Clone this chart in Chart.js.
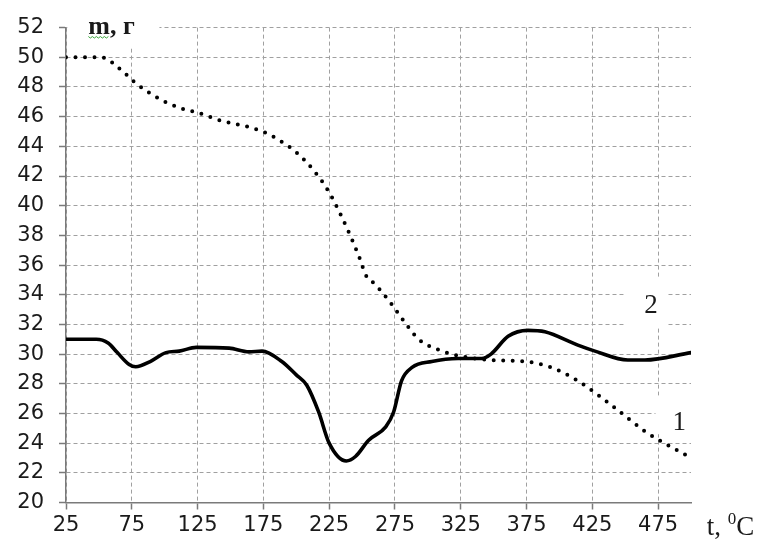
<!DOCTYPE html>
<html>
<head>
<meta charset="utf-8">
<script src="https://cdn.jsdelivr.net/npm/chart.js@4.4.0/dist/chart.umd.min.js"></script>
<style>
  html, body { margin: 0; padding: 0; background: #fff; }
  #wrap { width: 763px; height: 539px; }
</style>
</head>
<body>
<div id="wrap"><canvas id="chart" width="763" height="539"></canvas></div>
<script>
// curve "1" (dotted) - t, degC / m, g
const temp1 = [25, 49, 56, 62, 70, 76, 92, 111, 124, 144, 164, 177, 189, 200, 213, 225, 239, 248, 253, 260, 273, 282, 293, 308, 323, 348, 374, 394, 414, 439, 465, 500];
const mass1 = [50.0, 50.0, 49.9, 49.5, 48.9, 48.4, 47.4, 46.6, 46.3, 45.7, 45.3, 44.9, 44.3, 43.6, 42.4, 40.9, 38.4, 36.5, 35.3, 34.7, 33.3, 32.2, 31.0, 30.3, 29.9, 29.6, 29.5, 29.1, 28.2, 26.6, 24.8, 23.0];

// curve "2" (solid)
const temp2 = [25, 48, 57, 64, 73, 78, 89, 101, 111, 124, 149, 164, 174, 189, 200, 208, 217, 225, 238, 245, 255, 268, 274, 280, 288, 303, 323, 341, 348, 361, 376, 389, 414, 427, 452, 465, 500];
const mass2 = [31.0, 31.0, 30.75, 30.1, 29.3, 29.15, 29.5, 30.1, 30.2, 30.45, 30.4, 30.15, 30.2, 29.5, 28.6, 27.9, 26.1, 24.0, 22.8, 23.1, 24.2, 25.1, 26.1, 28.2, 29.1, 29.5, 29.7, 29.7, 30.0, 31.2, 31.6, 31.5, 30.6, 30.2, 29.6, 29.6, 30.1];

const xTicks = [25, 75, 125, 175, 225, 275, 325, 375, 425, 475];
const xMin = 25, xMax = 500;
const yMin = 20, yMax = 52, yStep = 2;

const curveLabels = ['1', '2'];
const yTitle = 'm, г';
const xTitle = ['t, ', '0', 'C'];

// where the texts sit, in axis units: [t, m]
const curveLabelPos = [[491, 24.9], [469.6, 32.8]];
const yTitlePos = [42, 51.6];
const xTitlePos = [512, 17.8];
// white boxes behind the texts (like Word text frames): [t0, t1, m0, m1]
const maskBoxes = [[26, 96, 50.6, 53], [449, 482, 31.8, 35.1], [473, 503, 24.6, 27.2]];

const serif = '"Liberation Serif", "Times New Roman", serif';
const tickFont = { family: '"DejaVu Sans", sans-serif', size: 21 };

const pts = (xs, ys) => xs.map((x, i) => ({ x, y: ys[i] }));

const notesPlugin = {
  id: 'notes',
  beforeDatasetsDraw(chart) {
    const { ctx, scales: { x, y } } = chart;
    ctx.save();
    ctx.fillStyle = '#fff';
    maskBoxes.forEach(b => {
      const x0 = x.getPixelForValue(b[0]), x1 = x.getPixelForValue(b[1]);
      const y0 = y.getPixelForValue(b[3]), y1 = y.getPixelForValue(b[2]);
      ctx.fillRect(x0, y0, x1 - x0, y1 - y0);
    });
    ctx.fillStyle = '#1a1a1a';
    ctx.textBaseline = 'alphabetic';
    ctx.font = '27px ' + serif;
    ctx.textAlign = 'center';
    curveLabels.forEach((s, i) => {
      ctx.fillText(s, x.getPixelForValue(curveLabelPos[i][0]), y.getPixelForValue(curveLabelPos[i][1]));
    });
    // y title
    ctx.textAlign = 'left';
    const tx = x.getPixelForValue(yTitlePos[0]), ty = y.getPixelForValue(yTitlePos[1]);
    ctx.font = 'bold 26px ' + serif;
    ctx.fillText(yTitle, tx, ty);
    // spell-check squiggle under "m"
    const mw = ctx.measureText('m').width;
    ctx.strokeStyle = '#3aa63a';
    ctx.lineWidth = 1;
    ctx.beginPath();
    for (let i = 0; i <= mw; i += 2) {
      const yy = ty + 3 + (i % 4 === 0 ? 0 : 1.5);
      if (i === 0) ctx.moveTo(tx + i, yy); else ctx.lineTo(tx + i, yy);
    }
    ctx.stroke();
    // x title with superscript
    let ax = x.getPixelForValue(xTitlePos[0]);
    const ay = y.getPixelForValue(xTitlePos[1]);
    ctx.font = '27px ' + serif;
    ctx.fillText(xTitle[0], ax, ay);
    ax += ctx.measureText(xTitle[0]).width;
    ctx.font = '17px ' + serif;
    ctx.fillText(xTitle[1], ax, ay - 11);
    ax += ctx.measureText(xTitle[1]).width;
    ctx.font = '27px ' + serif;
    ctx.fillText(xTitle[2], ax, ay);
    ctx.restore();
  }
};

const gridCommon = { color: '#a0a0a0', lineWidth: 1, tickLength: 7, tickColor: '#7a7a7a', tickWidth: 1.5 };
const borderCommon = { color: '#7a7a7a', width: 1.5, dash: [4, 3] };

new Chart(document.getElementById('chart'), {
  type: 'line',
  data: {
    datasets: [
      {
        label: curveLabels[0],
        data: pts(temp1, mass1),
        borderColor: '#000',
        borderWidth: 4,
        borderDash: [0, 9.5],
        borderCapStyle: 'round',
        cubicInterpolationMode: 'monotone',
        pointRadius: 0,
        fill: false
      },
      {
        label: curveLabels[1],
        data: pts(temp2, mass2),
        borderColor: '#000',
        borderWidth: 3.6,
        borderCapStyle: 'round',
        borderJoinStyle: 'round',
        cubicInterpolationMode: 'monotone',
        pointRadius: 0,
        fill: false
      }
    ]
  },
  options: {
    responsive: false,
    animation: false,
    events: [],
    layout: { padding: { left: 0, top: 25, right: 72, bottom: 0 } },
    scales: {
      x: {
        type: 'linear',
        min: xMin, max: xMax,
        afterBuildTicks: (s) => { s.ticks = xTicks.map(v => ({ value: v })); },
        afterFit: (s) => { s.height = 36.5; },
        ticks: { color: '#1a1a1a', font: tickFont, padding: 3, maxRotation: 0, autoSkip: false },
        grid: gridCommon,
        border: borderCommon
      },
      y: {
        type: 'linear',
        min: yMin, max: yMax,
        afterFit: (s) => { s.width = 66; },
        ticks: { stepSize: yStep, color: '#1a1a1a', font: tickFont, padding: 15 },
        grid: gridCommon,
        border: borderCommon
      }
    },
    plugins: {
      legend: { display: false },
      tooltip: { enabled: false }
    }
  },
  plugins: [notesPlugin]
});
</script>
</body>
</html>
